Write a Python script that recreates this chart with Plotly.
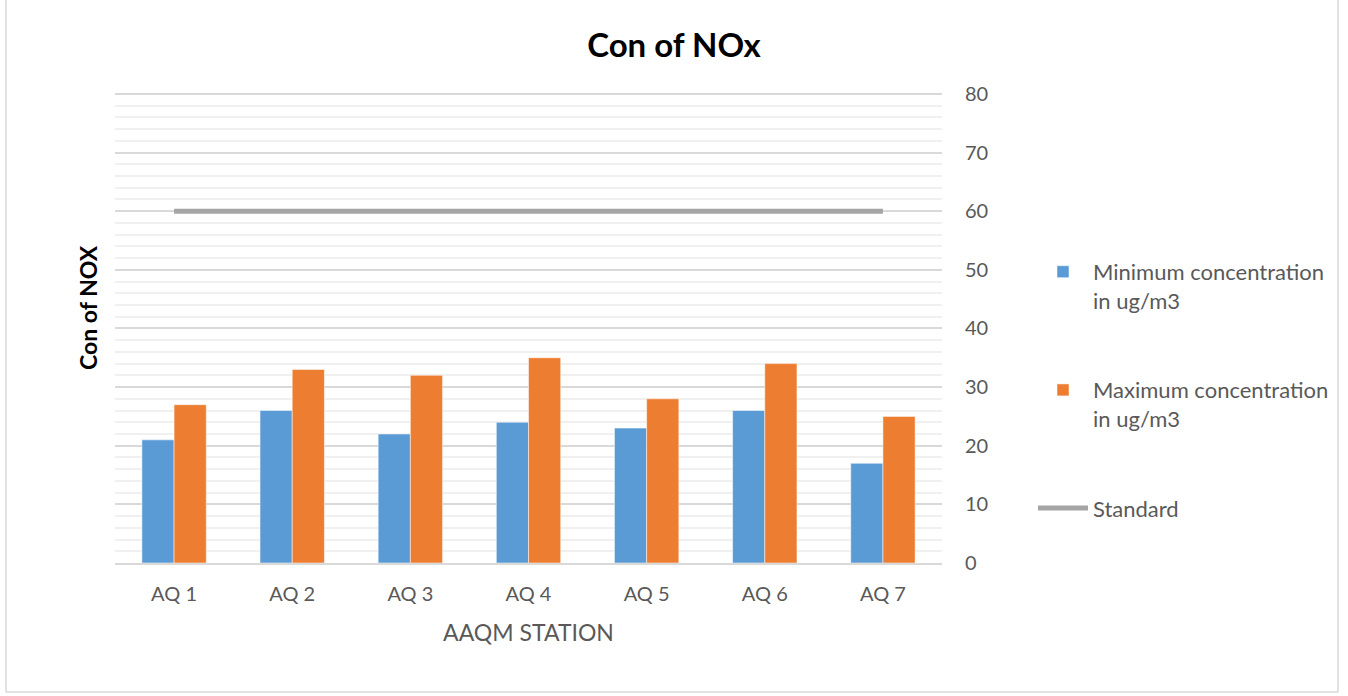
import plotly.graph_objects as go

categories = ["AQ 1", "AQ 2", "AQ 3", "AQ 4", "AQ 5", "AQ 6", "AQ 7"]
min_conc = [21, 26, 22, 24, 23, 26, 17]
max_conc = [27, 33, 32, 35, 28, 34, 25]
standard = [60, 60, 60, 60, 60, 60, 60]
y_ticks = [0, 10, 20, 30, 40, 50, 60, 70, 80]

FONT = "Lato"
GREY_TXT = "#595959"

fig = go.Figure()
fig.add_trace(go.Bar(
    x=categories, y=min_conc, name="Minimum concentration<br>in ug/m3",
    marker=dict(color="#5b9bd5", line=dict(color="white", width=0.5)),
    legendgroup="a",
))
fig.add_trace(go.Bar(
    x=categories, y=max_conc, name="Maximum concentration<br>in ug/m3",
    marker=dict(color="#ed7d31", line=dict(color="white", width=0.5)),
    legendgroup="b",
))
fig.add_trace(go.Scatter(
    x=categories, y=standard, name="Standard", mode="lines",
    line=dict(color="#a5a5a5", width=5),
    legendgroup="c",
))

Y_TOP = 81
L, R, B = 115, 942, 563
T = 94 - (Y_TOP - 80) * (563 - 94) / 80
W, H = 1348, 696
pw, ph = R - L, B - T

def px_x(x):
    return (x - L) / pw

def px_y(y):
    return (B - y) / ph

fig.update_layout(
    width=W, height=H,
    margin=dict(l=L, r=W - R, t=T, b=H - B, autoexpand=False),
    paper_bgcolor="white", plot_bgcolor="white",
    font=dict(family=FONT, color=GREY_TXT, size=20),
    barmode="group", bargap=0.455, bargroupgap=0,
    title=dict(text="<b>Con of NOx</b>", x=0.5, xref="container", xanchor="center",
               y=1 - 45 / H, yref="container", yanchor="middle",
               font=dict(family=FONT, size=33, color="black")),
    xaxis=dict(
        showgrid=False, showline=True, linecolor="#d9d9d9", linewidth=1.5,
        ticks="", tickfont=dict(size=20, color=GREY_TXT), ticklabelstandoff=12,
        title=dict(text="AAQM STATION", font=dict(size=23, color=GREY_TXT), standoff=21),
    ),
    yaxis=dict(
        side="right", range=[0, Y_TOP], tickvals=y_ticks,
        showgrid=True, gridcolor="#d9d9d9", gridwidth=1.5,
        zeroline=False, showline=False, ticks="",
        tickfont=dict(size=20, color=GREY_TXT), ticklabelstandoff=22,
        minor=dict(tickvals=list(range(2, 80, 2)), showgrid=True,
                   gridcolor="#f0f0f0", gridwidth=1.5),
    ),
    legend=dict(
        x=px_x(1033), y=px_y(251), xanchor="left", yanchor="top",
        traceorder="grouped", tracegroupgap=58, valign="top",
        font=dict(size=22, color=GREY_TXT), itemwidth=50,
        bgcolor="rgba(0,0,0,0)",
    ),
    showlegend=True,
)

fig.add_annotation(
    text="<b>Con of NOX</b>", textangle=-90,
    x=px_x(88), y=px_y(308), xref="paper", yref="paper",
    xanchor="center", yanchor="middle", showarrow=False,
    font=dict(family=FONT, size=23, color="black"),
)

# outer chart border (left, bottom, right)
fig.add_shape(
    type="path", xref="paper", yref="paper",
    path=f"M {px_x(6)} {px_y(0)} L {px_x(6)} {px_y(692)} L {px_x(1338)} {px_y(692)} L {px_x(1338)} {px_y(0)}",
    line=dict(color="#d9d9d9", width=1.5), layer="below",
)

fig.write_html(
    "out.html",
    config={"displayModeBar": False},
    post_script="document.body.style.margin='0';document.body.style.overflow='hidden';",
)
